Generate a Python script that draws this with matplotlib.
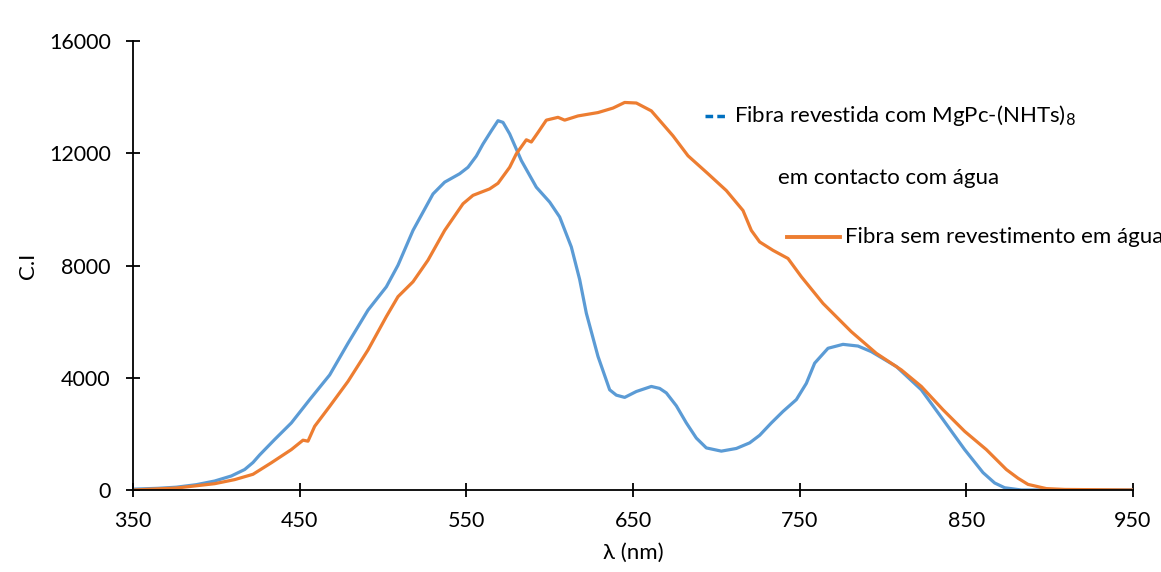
import numpy as np
import matplotlib.pyplot as plt
from matplotlib.lines import Line2D

plt.rcParams['font.family'] = ['Lato', 'DejaVu Sans']

# wavelength (nm) / intensity
wl_coated = [350, 365, 376, 388, 399, 409, 417, 422, 426, 435, 445, 456, 468, 479, 491,
             502, 509, 518, 530, 537, 546, 551, 556, 560, 565, 569, 572, 576, 583, 592,
             600, 606, 613, 618, 622, 629, 636, 640, 645, 652, 661, 666, 670, 676, 682,
             688, 694, 703, 712, 720, 726, 733, 740, 748, 754, 759, 767, 776, 785, 793,
             808, 823, 836, 849, 860, 867, 873, 883, 950]
ci_coated = [30, 60, 100, 190, 320, 500, 730, 980, 1250, 1800, 2390, 3220, 4100, 5230, 6410,
             7240, 8010, 9250, 10550, 10970, 11270, 11500, 11900, 12330, 12800, 13160, 13100, 12690, 11740, 10790,
             10260, 9730, 8660, 7500, 6300, 4760, 3570, 3380, 3300, 3510, 3690, 3620, 3460, 3000, 2390,
             1850, 1500, 1385, 1480, 1680, 1950, 2390, 2800, 3220, 3800, 4520, 5050, 5190, 5130, 4930,
             4400, 3570, 2510, 1440, 620, 250, 80, 0, 0]

wl_bare = [350, 376, 399, 411, 422, 433, 445, 452, 455, 459, 468, 479, 491, 502, 509,
           518, 527, 537, 548, 554, 564, 569, 576, 580, 586, 589, 593, 598, 605, 609,
           617, 629, 638, 645, 652, 661, 667, 674, 683, 695, 706, 716, 721, 726, 734,
           743, 751, 764, 781, 796, 811, 823, 836, 849, 862, 874, 881, 887, 898, 909,
           950]
ci_bare = [0, 70, 225, 370, 560, 970, 1440, 1775, 1740, 2270, 2980, 3870, 4990, 6180, 6890,
           7420, 8190, 9250, 10200, 10500, 10730, 10930, 11500, 11980, 12480, 12400, 12740, 13180, 13280, 13180,
           13330, 13450, 13610, 13810, 13790, 13510, 13100, 12620, 11910, 11270, 10670, 9960, 9250, 8840, 8540,
           8250, 7600, 6650, 5640, 4870, 4280, 3690, 2860, 2090, 1440, 730, 420, 200, 50, 20,
           0]

label_coated = 'Fibra revestida com MgPc-(NHTs)$_8$'
label_coated2 = 'em contacto com água'
label_bare = 'Fibra sem revestimento em água'

blue = '#5B9BD5'
orange = '#ED7D31'

fig = plt.figure(figsize=(11.61, 5.72), dpi=100)
ax = fig.add_axes([133/1161, 82/572, 1000/1161, 449/572])

ax.plot(wl_coated, ci_coated, color=blue, lw=2.3, solid_joinstyle='round')
ax.plot(wl_bare, ci_bare, color=orange, lw=2.3, solid_joinstyle='round')

ax.set_xlim(350, 950)
ax.set_ylim(0, 16000)
ax.set_xticks(np.arange(350, 951, 100))
ax.set_yticks(np.arange(0, 16001, 4000))
for s in ['top', 'right']:
    ax.spines[s].set_visible(False)
for s in ['left', 'bottom']:
    ax.spines[s].set_linewidth(1.3)
ax.tick_params(axis='both', direction='inout', length=10, width=1.3, labelsize=15.5, colors='black')
ax.tick_params(axis='x', pad=10)
ax.tick_params(axis='y', pad=11)
ax.set_xlabel('λ (nm)', fontsize=16, labelpad=9)
ax.set_ylabel('C.I', fontsize=16, labelpad=8)

# legend drawn by hand to keep the reference layout
def fx(px):
    return px / 1161
def fy(py):
    return 1 - py / 572

fig.add_artist(Line2D([fx(705), fx(725)], [fy(116), fy(116)], color='#0070C0', lw=2.5,
                      linestyle=(0, (2.2, 1.2))))
fig.text(fx(734), fy(116), label_coated, fontsize=16, va='center', ha='left')
fig.text(fx(778), fy(178), label_coated2, fontsize=16, va='center', ha='left')
fig.add_artist(Line2D([fx(787), fx(840)], [fy(237), fy(237)], color=orange, lw=2.8))
fig.text(fx(845), fy(237), label_bare, fontsize=16, va='center', ha='left')

fig.savefig('out.png', dpi=100)
